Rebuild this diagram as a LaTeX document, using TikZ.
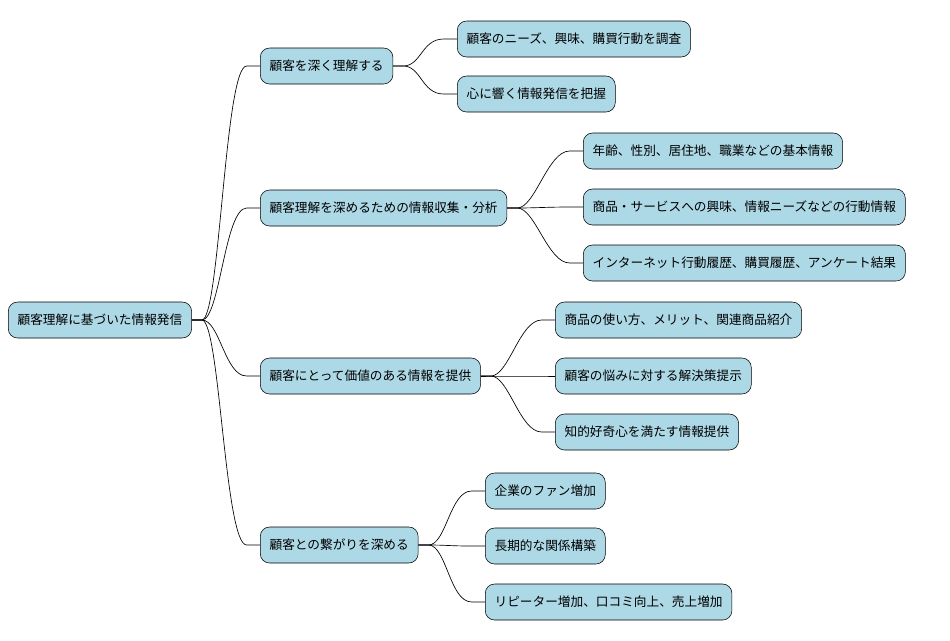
\documentclass[tikz,border=0pt]{standalone}
\usepackage{fontspec}
\setmainfont{Noto Sans CJK JP}
\usetikzlibrary{positioning}
\definecolor{topicblue}{HTML}{ADD8E6}
\tikzset{
  topic/.style={draw=black, fill=topicblue, rounded corners=7pt, anchor=west,
    minimum height=27pt, inner xsep=7pt, font=\fontsize{9.5pt}{11pt}\selectfont},
  branch/.style={draw=black, line width=0.5pt}
}
\begin{document}
\begin{tikzpicture}[x=0.75pt,y=-0.75pt]
\useasboundingbox (0,0) rectangle (950,640);

% root
\node[topic] (root) at (8,320) {顧客理解に基づいた情報発信};

% first level
\node[topic] (know)  at (260,66)  {顧客を深く理解する};
\node[topic] (info)  at (260,208) {顧客理解を深めるための情報収集・分析};
\node[topic] (value) at (260,376) {顧客にとって価値のある情報を提供};
\node[topic] (bond)  at (260,545) {顧客との繋がりを深める};

% second level
\node[topic] (needs)  at (457,39)  {顧客のニーズ、興味、購買行動を調査};
\node[topic] (heart)  at (457,94)  {心に響く情報発信を把握};
\node[topic] (basic)  at (583,151) {年齢、性別、居住地、職業などの基本情報};
\node[topic] (act)    at (583,207) {商品・サービスへの興味、情報ニーズなどの行動情報};
\node[topic] (hist)   at (583,263) {インターネット行動履歴、購買履歴、アンケート結果};
\node[topic] (usage)  at (555,320) {商品の使い方、メリット、関連商品紹介};
\node[topic] (worry)  at (555,376) {顧客の悩みに対する解決策提示};
\node[topic] (curio)  at (555,432) {知的好奇心を満たす情報提供};
\node[topic] (fan)    at (485,491) {企業のファン増加};
\node[topic] (long)   at (485,546) {長期的な関係構築};
\node[topic] (repeat) at (485,602) {リピーター増加、口コミ向上、売上増加};

% connectors
\foreach \a/\b in {root/know, root/info, root/value, root/bond,
  know/needs, know/heart, info/basic, info/act, info/hist,
  value/usage, value/worry, value/curio, bond/fan, bond/long, bond/repeat}{
  \draw[branch] (\a.east) -- ++(10,0) .. controls +(18,0) and +(-22,0) .. ([xshift=-10]\b.west) -- (\b.west);
}
\end{tikzpicture}
\end{document}
